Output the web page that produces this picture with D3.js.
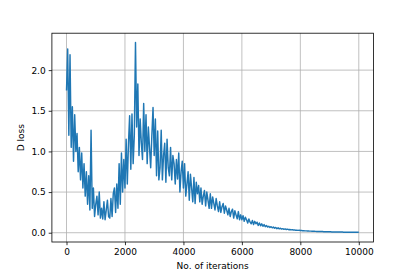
<!DOCTYPE html>
<html>
<head>
<meta charset="utf-8">
<script src="https://cdn.jsdelivr.net/npm/d3@7"></script>
<style>
  body { margin: 0; background: #fff; }
  svg { display: block; font-family: "DejaVu Sans", sans-serif; }
</style>
</head>
<body>
<svg id="chart" width="415" height="277"></svg>
<script>
// one D loss value every 40 iterations, 0..10000
var step = 40;
var lossValues = [
  1.75, 2.26, 1.20, 2.19, 1.05, 1.55, 0.88, 1.45, 1.00, 1.22, 0.75,
  1.05, 0.65, 0.98, 0.55, 0.85, 0.45, 0.75, 0.35, 0.70, 0.28,
  1.26, 0.30, 0.55, 0.20, 0.35, 0.45, 0.22, 0.50, 0.18, 0.30, 0.17, 0.38, 0.16, 0.28, 0.40, 0.20, 0.18, 0.42, 0.20, 0.48,
  0.55, 0.25, 0.60, 0.30, 0.85, 0.35, 0.98, 0.50, 0.90, 0.55, 1.15, 0.60, 1.10, 1.44, 0.78, 1.46, 0.85, 1.20,
  2.34, 1.30, 1.83, 0.95, 1.40, 1.10, 0.90, 1.59, 1.00, 1.45, 0.85, 1.30, 1.05, 0.80, 1.20, 1.54, 0.95, 1.40, 0.70, 1.25,
  0.65, 0.80, 1.26, 0.65, 0.95, 1.10, 0.62, 1.15, 0.80, 0.70, 1.05, 0.65, 0.95, 0.85, 0.60, 0.90, 0.66, 0.98, 0.50, 0.75, 0.88, 0.55,
  0.85, 0.45, 0.60, 0.75, 0.40, 0.72, 0.55, 0.38, 0.68, 0.36, 0.62, 0.48, 0.58, 0.38,
  0.55, 0.35, 0.45, 0.52, 0.33, 0.50, 0.40, 0.30, 0.48, 0.30, 0.44, 0.36, 0.28, 0.42, 0.33, 0.26, 0.38, 0.25, 0.32, 0.36, 0.24, 0.33, 0.28, 0.22,
  0.30, 0.20, 0.26, 0.29, 0.18, 0.27, 0.22, 0.17, 0.26, 0.16, 0.22, 0.16,
  0.21, 0.14, 0.19, 0.16, 0.12, 0.17, 0.13, 0.11, 0.15, 0.10, 0.14, 0.11, 0.13, 0.09, 0.12, 0.085, 0.11, 0.08, 0.10, 0.075, 0.09, 0.07,
  0.08, 0.065, 0.075, 0.06, 0.07, 0.055, 0.065, 0.05, 0.06, 0.048, 0.055, 0.045, 0.05, 0.042, 0.047, 0.04, 0.044, 0.037, 0.04, 0.035, 0.038, 0.033, 0.035, 0.031, 0.032, 0.029, 0.03,
  0.027, 0.027, 0.025, 0.025, 0.023, 0.023, 0.022, 0.021, 0.020, 0.020, 0.019, 0.018, 0.018, 0.017, 0.016, 0.016, 0.015, 0.015, 0.014, 0.014,
  0.013, 0.013, 0.012, 0.012, 0.012, 0.011, 0.011, 0.010, 0.010, 0.010, 0.009, 0.009, 0.009, 0.008, 0.008, 0.008, 0.008, 0.007, 0.007, 0.007,
  0.007, 0.006, 0.006, 0.006, 0.006, 0.006, 0.005, 0.005, 0.005, 0.005, 0.005
];
var xTicks = [0, 2000, 4000, 6000, 8000, 10000];
var yTicks = [0.0, 0.5, 1.0, 1.5, 2.0];

var plotLeft = 51.9, plotRight = 373.4, plotTop = 33.2, plotBottom = 242;

var svg = d3.select("#chart");

var x = d3.scaleLinear().domain([-500, 10500]).range([plotLeft, plotRight]);
var y = d3.scaleLinear().domain([-0.114, 2.454]).range([plotBottom, plotTop]);

// grid
svg.append("g").selectAll("line").data(xTicks).enter().append("line")
  .attr("x1", d => x(d)).attr("x2", d => x(d))
  .attr("y1", plotTop).attr("y2", plotBottom)
  .attr("stroke", "#b0b0b0").attr("stroke-width", 0.8);
svg.append("g").selectAll("line").data(yTicks).enter().append("line")
  .attr("x1", plotLeft).attr("x2", plotRight)
  .attr("y1", d => y(d)).attr("y2", d => y(d))
  .attr("stroke", "#b0b0b0").attr("stroke-width", 0.8);

// loss curve
var line = d3.line()
  .x((d, i) => x(i * step))
  .y(d => y(d));

svg.append("path")
  .datum(lossValues)
  .attr("d", line)
  .attr("fill", "none")
  .attr("stroke", "#1f77b4")
  .attr("stroke-width", 1.45)
  .attr("stroke-linejoin", "round");

// axes
var xAxis = d3.axisBottom(x).tickValues(xTicks).tickFormat(d3.format("d"))
  .tickSize(3.2).tickPadding(3);
var yAxis = d3.axisLeft(y).tickValues(yTicks).tickFormat(d3.format(".1f"))
  .tickSize(3.2).tickPadding(3);

var gx = svg.append("g").attr("transform", "translate(0," + plotBottom + ")").call(xAxis);
var gy = svg.append("g").attr("transform", "translate(" + plotLeft + ",0)").call(yAxis);
[gx, gy].forEach(function(g) {
  g.select(".domain").remove();
  g.selectAll(".tick line").attr("stroke", "#000").attr("stroke-width", 0.8);
  g.selectAll(".tick text").attr("fill", "#000").style("font-size", "9px")
    .style("font-family", "DejaVu Sans, sans-serif");
});

// frame
svg.append("rect")
  .attr("x", plotLeft).attr("y", plotTop)
  .attr("width", plotRight - plotLeft).attr("height", plotBottom - plotTop)
  .attr("fill", "none").attr("stroke", "#000").attr("stroke-width", 0.8);

svg.append("text")
  .attr("x", (plotLeft + plotRight) / 2).attr("y", 269)
  .attr("text-anchor", "middle")
  .style("font-size", "9px")
  .text("No. of iterations");

svg.append("text")
  .attr("transform", "translate(24," + ((plotTop + plotBottom) / 2) + ") rotate(-90)")
  .attr("text-anchor", "middle")
  .style("font-size", "9px")
  .text("D loss");
</script>
</body>
</html>
